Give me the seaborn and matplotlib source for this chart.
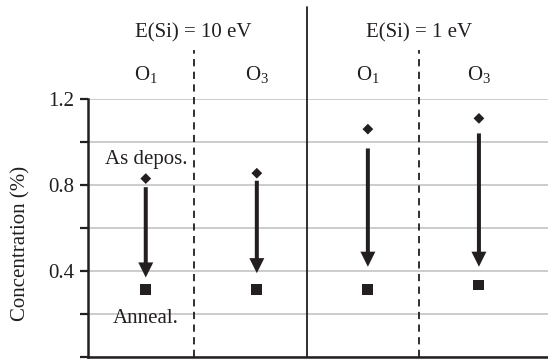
import matplotlib
matplotlib.use("Agg")
import matplotlib.pyplot as plt
import seaborn as sns
import pandas as pd

# Oxygen concentration per site, as deposited and after annealing
energies = ["E(Si) = 10 eV", "E(Si) = 1 eV"]
sites = ["O$_\\mathregular{1}$", "O$_\\mathregular{3}$", "O$_\\mathregular{1}$", "O$_\\mathregular{3}$"]
as_deposited = [0.83, 0.855, 1.06, 1.11]
annealed = [0.316, 0.316, 0.316, 0.335]
arrow_tail = [0.79, 0.82, 0.97, 1.04]
arrow_tip = [0.37, 0.39, 0.42, 0.42]
y_ticks = [0.0, 0.2, 0.4, 0.6, 0.8, 1.0, 1.2]
y_tick_labels = ["", "", "0.4", "", "0.8", "", "1.2"]

sns.set_theme(style="white")
plt.rcParams["font.family"] = ["Liberation Serif", "DejaVu Serif"]
plt.rcParams["mathtext.fontset"] = "custom"
plt.rcParams["mathtext.rm"] = "Liberation Serif"

ink = "#231f20"
fs = 15
xpos = list(range(len(sites)))
df = pd.DataFrame({
    "x": xpos * 2,
    "conc": as_deposited + annealed,
    "state": ["As depos."] * 4 + ["Anneal."] * 4,
})

fig = plt.figure(figsize=(5.48, 3.61), dpi=100)
ax = fig.add_axes([0.1606, 0.011, 0.839, 0.7147])

ax.set_xlim(-0.52, 3.62)
ax.set_ylim(0, 1.2)
for y in y_ticks:
    ax.axhline(y, color="#c4c4c4", lw=1.2, zorder=0)

sns.scatterplot(data=df, x="x", y="conc", style="state",
                markers={"As depos.": "D", "Anneal.": "s"},
                size="state", sizes={"As depos.": 30, "Anneal.": 62},
                color=ink, edgecolor=ink, linewidth=0, legend=False,
                ax=ax, zorder=4)

# downward arrows from the deposited to the annealed level
for x, t0, t1 in zip(xpos, arrow_tail, arrow_tip):
    ax.arrow(x, t0, 0, t1 - t0, width=0.036, head_width=0.135,
             head_length=0.07, length_includes_head=True,
             color=ink, lw=0, zorder=3)

# group dividers
ax.plot([1.45, 1.45], [0, 1.63], color=ink, lw=1.3, clip_on=False, zorder=2)
for xd in (0.43, 2.46):
    ax.plot([xd, xd], [0, 1.43], color=ink, lw=1.3, ls=(0, (4, 3)),
            clip_on=False, zorder=2)

ax.text(0.43, 1.51, energies[0], ha="center", va="center", fontsize=fs, color=ink)
ax.text(2.46, 1.51, energies[1], ha="center", va="center", fontsize=fs, color=ink)
for x, s in zip(xpos, sites):
    ax.text(x, 1.31, s, ha="center", va="center", fontsize=fs, color=ink)

ax.text(0, 0.92, "As depos.", ha="center", va="center", fontsize=fs, color=ink)
ax.text(0, 0.18, "Anneal.", ha="center", va="center", fontsize=fs, color=ink)

ax.set_yticks(y_ticks)
ax.set_yticklabels(y_tick_labels, fontsize=fs, color=ink)
ax.set_xticks([])
ax.set_xlabel("")
ax.set_ylabel("Concentration (%)", fontsize=fs, color=ink)
ax.yaxis.set_label_coords(-0.125, 0.44)
ax.tick_params(axis="y", direction="out", length=6, width=1.6, color=ink,
               left=True, pad=4)
for side in ("top", "right"):
    ax.spines[side].set_visible(False)
for side in ("left", "bottom"):
    ax.spines[side].set_color(ink)
    ax.spines[side].set_linewidth(1.8)

fig.savefig("out.png", dpi=100)
